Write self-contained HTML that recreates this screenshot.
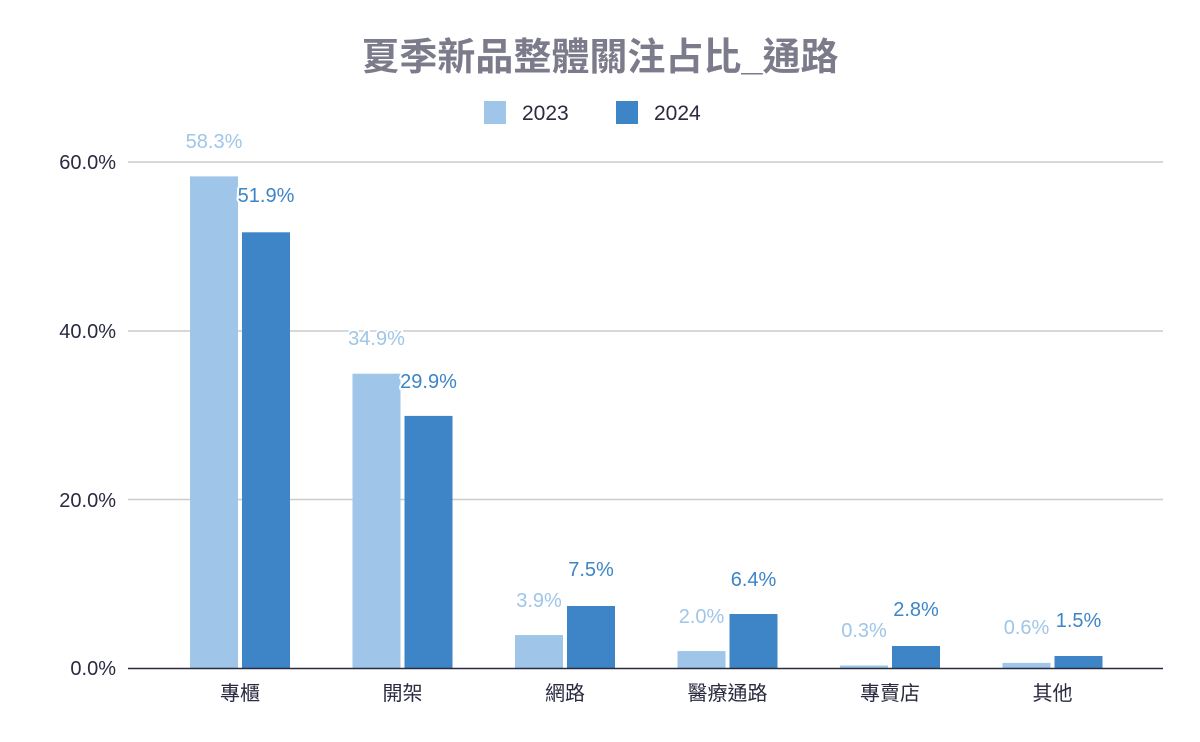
<!DOCTYPE html>
<html><head><meta charset="utf-8"><style>
body{margin:0;background:#fff;}
svg{display:block;font-family:"Liberation Sans","Noto Sans CJK TC",sans-serif;}
.lbl{font-size:20px;text-anchor:middle;paint-order:stroke;stroke:#fff;stroke-width:4px;stroke-linejoin:round;}
.a{fill:#9fc5e8}.b{fill:#3d85c6}
.tick{font-size:20px;fill:#2a2a40;text-anchor:end}
.cat{font-size:20px;fill:#2a2a40;text-anchor:middle}
</style></head><body>
<svg width="1200" height="742" viewBox="0 0 1200 742">
<rect width="1200" height="742" fill="#fff"/>
<text x="600" y="70" font-size="38" font-weight="bold" fill="#7b7b8c" text-anchor="middle">夏季新品整體關注占比_通路</text>
<rect x="484" y="101" width="22" height="23" fill="#9fc5e8"/>
<text x="522" y="120" font-size="21" fill="#2a2a40">2023</text>
<rect x="616" y="101" width="22" height="23" fill="#3d85c6"/>
<text x="654" y="120" font-size="21" fill="#2a2a40">2024</text>
<g stroke="#cccccc" stroke-width="1.5">
<line x1="128" y1="162" x2="1163" y2="162"/>
<line x1="128" y1="331" x2="1163" y2="331"/>
<line x1="128" y1="499.5" x2="1163" y2="499.5"/>
</g>
<text class="tick" x="116" y="169">60.0%</text>
<text class="tick" x="116" y="338">40.0%</text>
<text class="tick" x="116" y="507">20.0%</text>
<text class="tick" x="116" y="675">0.0%</text>
<g class="a">
<rect x="190" y="176.4" width="48" height="491.6"/>
<rect x="352.5" y="373.7" width="48" height="294.3"/>
<rect x="515" y="635.1" width="48" height="32.9"/>
<rect x="677.5" y="651.1" width="48" height="16.9"/>
<rect x="840" y="665.5" width="48" height="2.5"/>
<rect x="1002.5" y="662.9" width="48" height="5.1"/>
</g>
<g class="b">
<rect x="242" y="232.3" width="48" height="435.7"/>
<rect x="404.5" y="415.9" width="48" height="252.1"/>
<rect x="567" y="606" width="48" height="62"/>
<rect x="729.5" y="614" width="48" height="54"/>
<rect x="892" y="646" width="48" height="22"/>
<rect x="1054.5" y="656" width="48" height="12"/>
</g>
<line x1="128" y1="668.5" x2="1163" y2="668.5" stroke="#2a2a40" stroke-width="1.5"/>
<g>
<text class="lbl a" x="214" y="148">58.3%</text>
<text class="lbl b" x="266" y="202">51.9%</text>
<text class="lbl a" x="376.5" y="345">34.9%</text>
<text class="lbl b" x="428.5" y="388">29.9%</text>
<text class="lbl a" x="539" y="607">3.9%</text>
<text class="lbl b" x="591" y="576">7.5%</text>
<text class="lbl a" x="701.5" y="623">2.0%</text>
<text class="lbl b" x="753.5" y="586">6.4%</text>
<text class="lbl a" x="864" y="637">0.3%</text>
<text class="lbl b" x="916" y="616">2.8%</text>
<text class="lbl a" x="1026.5" y="634">0.6%</text>
<text class="lbl b" x="1078.5" y="627">1.5%</text>
</g>
<text class="cat" x="240" y="700">專櫃</text>
<text class="cat" x="402.5" y="700">開架</text>
<text class="cat" x="565" y="700">網路</text>
<text class="cat" x="727.5" y="700">醫療通路</text>
<text class="cat" x="890" y="700">專賣店</text>
<text class="cat" x="1052.5" y="700">其他</text>
</svg>
</body></html>
